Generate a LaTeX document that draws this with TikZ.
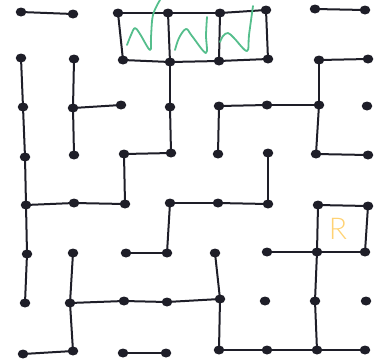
\documentclass[tikz,border=0pt]{standalone}
\usepackage{fontspec}
\newfontfamily\handfont{Lato Light}
\definecolor{ink}{RGB}{30,30,40}
\definecolor{mint}{RGB}{85,190,140}
\definecolor{sand}{RGB}{255,210,115}
\tikzset{
  dot/.style={ellipse,fill=ink,inner sep=0pt,minimum width=10.5pt,minimum height=9pt},
  wall/.style={draw=ink,line width=2pt,line cap=round},
  scribble/.style={draw=mint,line width=1.8pt,line cap=round,line join=round},
}
\usetikzlibrary{shapes.geometric}
\begin{document}
\begin{tikzpicture}[x=1pt,y=-1pt]
\useasboundingbox (0,0) rectangle (378,360);
% dots: name = column row
\foreach \n/\x/\y in {
 11/21/12, 21/73/14, 31/118/13, 41/168/13, 51/220/13, 61/266/10, 71/315/9, 81/365/10,
 12/21/58, 22/74/59, 32/123/60, 42/170/62, 52/219/61, 62/268/59, 72/319/60, 82/368/59,
 13/23/107, 23/73/108, 33/121/105, 43/170/107, 53/219/106, 63/267/105, 73/319/105, 83/367/106,
 14/25/157, 24/74/155, 34/124/154, 44/171/153, 54/218/154, 64/268/153, 74/316/154, 84/368/155,
 15/26/205, 25/74/203, 35/125/204, 45/170/203, 55/218/203, 65/268/204, 75/318/205, 85/368/206,
 16/27/254, 26/73/253, 36/126/253, 46/167/253, 56/215/253, 66/267/252, 76/317/252, 86/365/252,
 17/25/303, 27/70/303, 37/124/301, 47/167/302, 57/220/299, 67/265/301, 77/315/301, 87/366/301,
 18/23/354, 28/73/351, 38/123/353, 48/166/353, 58/219/350, 68/267/350, 78/317/350, 88/365/350}
  \node[dot] (d\n) at (\x,\y) {};
% walls
\foreach \a/\b in {
 11/21, 31/41, 41/51, 51/61, 71/81,
 32/42, 42/52, 52/62, 72/82,
 23/33, 53/63, 63/73,
 34/44, 74/84,
 15/25, 25/35, 45/55, 55/65, 75/85,
 36/46, 66/76, 76/86,
 27/37, 37/47, 47/57,
 18/28, 38/48, 58/68, 68/78, 78/88,
 31/32, 41/42, 51/52, 61/62,
 12/13, 22/23, 42/43, 72/73,
 13/14, 23/24, 43/44, 53/54, 73/74,
 14/15, 34/35, 64/65,
 15/16, 45/46, 75/76, 85/86,
 16/17, 26/27, 56/57, 76/77,
 27/28, 57/58, 77/78}
  \draw[wall] (d\a.center) -- (d\b.center);
% green scribbles
\draw[scribble] plot[smooth,tension=0.6] coordinates {(127,45) (131,35) (135,28) (140,34) (150,50) (151,37) (153,15) (160,0)};
\draw[scribble] plot[smooth,tension=0.6] coordinates {(175,50) (179,38) (186,29) (192,36) (206,53) (206,35) (207,17)};
\draw[scribble] plot[smooth,tension=0.6] coordinates {(220,42) (223,36) (228,33) (234,38) (247,51) (249,35) (253,6)};
% R label
\node[text=sand,font=\handfont\fontsize{30}{30}\selectfont] (rlabel) at (338,229) {R};
\end{tikzpicture}
\end{document}
